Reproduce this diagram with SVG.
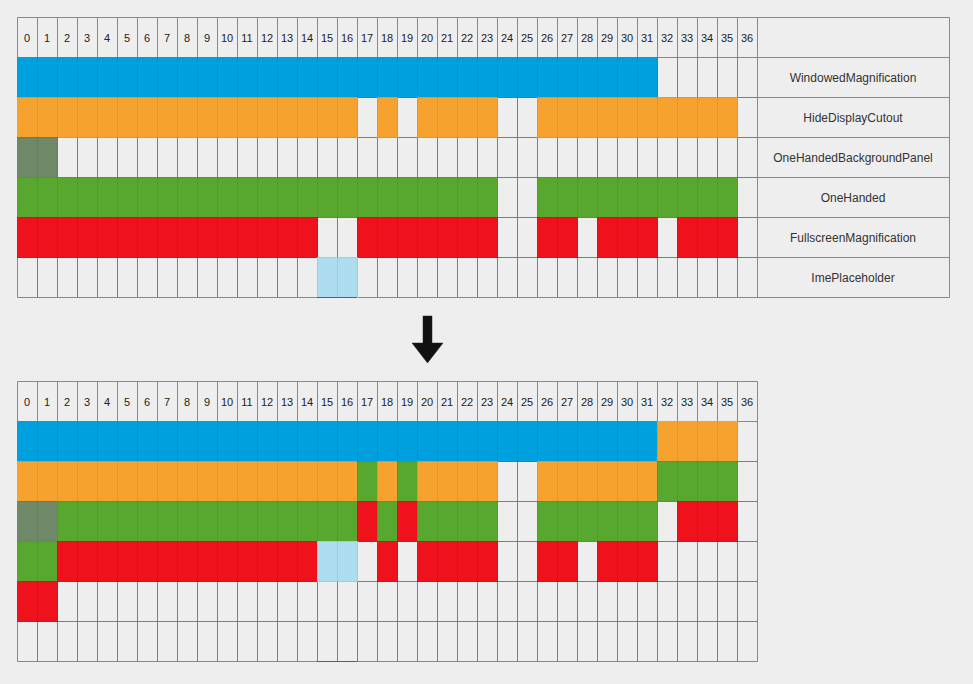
<svg xmlns="http://www.w3.org/2000/svg" width="973" height="684" viewBox="0 0 973 684">
<defs>
<style>
.bg{fill:#eeeeee}
.grid{fill:none;stroke:#888888;stroke-width:1}
.ov{fill:none;stroke:#000000;stroke-opacity:0.07;stroke-width:1}
.b{fill:#00a0de}
.o{fill:#f6a22e}
.gr{fill:#58a72e}
.r{fill:#ef111b}
.p{fill:#6e8868}
.l{fill:#addcee}
.num{font-family:"Liberation Sans",Arial,sans-serif;font-size:11px;fill:#222222;text-anchor:middle}
.lab{font-family:"Liberation Sans",Arial,sans-serif;font-size:12px;fill:#333333;text-anchor:middle}
.teal{stroke:#2a7090;stroke-width:1;fill:none}
</style>
</defs>
<rect class="bg" x="0" y="0" width="973" height="684"/>

<g id="top-table">
  <g id="top-grid">
    <path class="grid" d="M17.5 17.5V297.5M37.5 17.5V297.5M57.5 17.5V297.5M77.5 17.5V297.5M97.5 17.5V297.5M117.5 17.5V297.5M137.5 17.5V297.5M157.5 17.5V297.5M177.5 17.5V297.5M197.5 17.5V297.5M217.5 17.5V297.5M237.5 17.5V297.5M257.5 17.5V297.5M277.5 17.5V297.5M297.5 17.5V297.5M317.5 17.5V297.5M337.5 17.5V297.5M357.5 17.5V297.5M377.5 17.5V297.5M397.5 17.5V297.5M417.5 17.5V297.5M437.5 17.5V297.5M457.5 17.5V297.5M477.5 17.5V297.5M497.5 17.5V297.5M517.5 17.5V297.5M537.5 17.5V297.5M557.5 17.5V297.5M577.5 17.5V297.5M597.5 17.5V297.5M617.5 17.5V297.5M637.5 17.5V297.5M657.5 17.5V297.5M677.5 17.5V297.5M697.5 17.5V297.5M717.5 17.5V297.5M737.5 17.5V297.5M757.5 17.5V297.5M949.5 17.5V297.5M17.5 17.5H949.5M17.5 57.5H949.5M17.5 97.5H949.5M17.5 137.5H949.5M17.5 177.5H949.5M17.5 217.5H949.5M17.5 257.5H949.5M17.5 297.5H949.5"/>
  </g>
  <g id="top-header">
    <text class="num" x="27" y="42">0</text><text class="num" x="47" y="42">1</text><text class="num" x="67" y="42">2</text><text class="num" x="87" y="42">3</text><text class="num" x="107" y="42">4</text><text class="num" x="127" y="42">5</text><text class="num" x="147" y="42">6</text><text class="num" x="167" y="42">7</text><text class="num" x="187" y="42">8</text><text class="num" x="207" y="42">9</text><text class="num" x="227" y="42">10</text><text class="num" x="247" y="42">11</text><text class="num" x="267" y="42">12</text><text class="num" x="287" y="42">13</text><text class="num" x="307" y="42">14</text><text class="num" x="327" y="42">15</text><text class="num" x="347" y="42">16</text><text class="num" x="367" y="42">17</text><text class="num" x="387" y="42">18</text><text class="num" x="407" y="42">19</text><text class="num" x="427" y="42">20</text><text class="num" x="447" y="42">21</text><text class="num" x="467" y="42">22</text><text class="num" x="487" y="42">23</text><text class="num" x="507" y="42">24</text><text class="num" x="527" y="42">25</text><text class="num" x="547" y="42">26</text><text class="num" x="567" y="42">27</text><text class="num" x="587" y="42">28</text><text class="num" x="607" y="42">29</text><text class="num" x="627" y="42">30</text><text class="num" x="647" y="42">31</text><text class="num" x="667" y="42">32</text><text class="num" x="687" y="42">33</text><text class="num" x="707" y="42">34</text><text class="num" x="727" y="42">35</text><text class="num" x="747" y="42">36</text>
  </g>
  <g id="row-WindowedMagnification">
    <rect class="b" x="17" y="57" width="641" height="41"/>
    <text class="lab" x="853" y="82">WindowedMagnification</text>
  </g>
  <g id="row-HideDisplayCutout">
    <rect class="o" x="17" y="97" width="341" height="41"/>
    <rect class="o" x="377" y="97" width="21" height="41"/>
    <rect class="o" x="417" y="97" width="81" height="41"/>
    <rect class="o" x="537" y="97" width="201" height="41"/>
    <text class="lab" x="853" y="122">HideDisplayCutout</text>
  </g>
  <g id="row-OneHandedBackgroundPanel">
    <rect class="p" x="17" y="137" width="41" height="41"/>
    <text class="lab" x="853" y="162">OneHandedBackgroundPanel</text>
  </g>
  <g id="row-OneHanded">
    <rect class="gr" x="17" y="177" width="481" height="41"/>
    <rect class="gr" x="537" y="177" width="201" height="41"/>
    <text class="lab" x="853" y="202">OneHanded</text>
  </g>
  <g id="row-FullscreenMagnification">
    <rect class="r" x="17" y="217" width="301" height="41"/>
    <rect class="r" x="357" y="217" width="141" height="41"/>
    <rect class="r" x="537" y="217" width="41" height="41"/>
    <rect class="r" x="597" y="217" width="61" height="41"/>
    <rect class="r" x="677" y="217" width="61" height="41"/>
    <text class="lab" x="853" y="242">FullscreenMagnification</text>
  </g>
  <g id="row-ImePlaceholder">
    <rect class="l" x="317" y="257" width="41" height="41"/>
    <path class="teal" d="M317 297.5H357"/>
    <text class="lab" x="853" y="282">ImePlaceholder</text>
  </g>
  <path class="ov" d="M37.5 57.5V297.5M57.5 57.5V297.5M77.5 57.5V297.5M97.5 57.5V297.5M117.5 57.5V297.5M137.5 57.5V297.5M157.5 57.5V297.5M177.5 57.5V297.5M197.5 57.5V297.5M217.5 57.5V297.5M237.5 57.5V297.5M257.5 57.5V297.5M277.5 57.5V297.5M297.5 57.5V297.5M317.5 57.5V297.5M337.5 57.5V297.5M357.5 57.5V297.5M377.5 57.5V297.5M397.5 57.5V297.5M417.5 57.5V297.5M437.5 57.5V297.5M457.5 57.5V297.5M477.5 57.5V297.5M497.5 57.5V297.5M517.5 57.5V297.5M537.5 57.5V297.5M557.5 57.5V297.5M577.5 57.5V297.5M597.5 57.5V297.5M617.5 57.5V297.5M637.5 57.5V297.5M657.5 57.5V297.5M677.5 57.5V297.5M697.5 57.5V297.5M717.5 57.5V297.5M737.5 57.5V297.5M17.5 97.5H757.5M17.5 137.5H757.5M17.5 177.5H757.5M17.5 217.5H757.5M17.5 257.5H757.5"/>
</g>

<g id="connectors">
  <polygon id="arrow-down" points="423,316 432,316 432,343 443,343 427.5,363 412,343 423,343" fill="#111111" stroke="#1a2a33" stroke-width="0.5"/>
</g>

<g id="bottom-table">
  <g id="bottom-grid">
    <path class="grid" d="M17.5 381.5V661.5M37.5 381.5V661.5M57.5 381.5V661.5M77.5 381.5V661.5M97.5 381.5V661.5M117.5 381.5V661.5M137.5 381.5V661.5M157.5 381.5V661.5M177.5 381.5V661.5M197.5 381.5V661.5M217.5 381.5V661.5M237.5 381.5V661.5M257.5 381.5V661.5M277.5 381.5V661.5M297.5 381.5V661.5M317.5 381.5V661.5M337.5 381.5V661.5M357.5 381.5V661.5M377.5 381.5V661.5M397.5 381.5V661.5M417.5 381.5V661.5M437.5 381.5V661.5M457.5 381.5V661.5M477.5 381.5V661.5M497.5 381.5V661.5M517.5 381.5V661.5M537.5 381.5V661.5M557.5 381.5V661.5M577.5 381.5V661.5M597.5 381.5V661.5M617.5 381.5V661.5M637.5 381.5V661.5M657.5 381.5V661.5M677.5 381.5V661.5M697.5 381.5V661.5M717.5 381.5V661.5M737.5 381.5V661.5M757.5 381.5V661.5M17.5 381.5H757.5M17.5 421.5H757.5M17.5 461.5H757.5M17.5 501.5H757.5M17.5 541.5H757.5M17.5 581.5H757.5M17.5 621.5H757.5M17.5 661.5H757.5"/>
  </g>
  <g id="bottom-header">
    <text class="num" x="27" y="406">0</text><text class="num" x="47" y="406">1</text><text class="num" x="67" y="406">2</text><text class="num" x="87" y="406">3</text><text class="num" x="107" y="406">4</text><text class="num" x="127" y="406">5</text><text class="num" x="147" y="406">6</text><text class="num" x="167" y="406">7</text><text class="num" x="187" y="406">8</text><text class="num" x="207" y="406">9</text><text class="num" x="227" y="406">10</text><text class="num" x="247" y="406">11</text><text class="num" x="267" y="406">12</text><text class="num" x="287" y="406">13</text><text class="num" x="307" y="406">14</text><text class="num" x="327" y="406">15</text><text class="num" x="347" y="406">16</text><text class="num" x="367" y="406">17</text><text class="num" x="387" y="406">18</text><text class="num" x="407" y="406">19</text><text class="num" x="427" y="406">20</text><text class="num" x="447" y="406">21</text><text class="num" x="467" y="406">22</text><text class="num" x="487" y="406">23</text><text class="num" x="507" y="406">24</text><text class="num" x="527" y="406">25</text><text class="num" x="547" y="406">26</text><text class="num" x="567" y="406">27</text><text class="num" x="587" y="406">28</text><text class="num" x="607" y="406">29</text><text class="num" x="627" y="406">30</text><text class="num" x="647" y="406">31</text><text class="num" x="667" y="406">32</text><text class="num" x="687" y="406">33</text><text class="num" x="707" y="406">34</text><text class="num" x="727" y="406">35</text><text class="num" x="747" y="406">36</text>
  </g>
  <g id="bottom-row-1">
    <rect class="b" x="17" y="421" width="641" height="41"/>
    <rect class="o" x="657" y="421" width="81" height="41"/>
  </g>
  <g id="bottom-row-2">
    <rect class="o" x="17" y="461" width="341" height="41"/>
    <rect class="gr" x="357" y="461" width="21" height="41"/>
    <rect class="o" x="377" y="461" width="21" height="41"/>
    <rect class="gr" x="397" y="461" width="21" height="41"/>
    <rect class="o" x="417" y="461" width="81" height="41"/>
    <rect class="o" x="537" y="461" width="121" height="41"/>
    <rect class="gr" x="657" y="461" width="81" height="41"/>
  </g>
  <g id="bottom-row-3">
    <rect class="p" x="17" y="501" width="41" height="41"/>
    <rect class="gr" x="57" y="501" width="301" height="41"/>
    <rect class="r" x="357" y="501" width="21" height="41"/>
    <rect class="gr" x="377" y="501" width="21" height="41"/>
    <rect class="r" x="397" y="501" width="21" height="41"/>
    <rect class="gr" x="417" y="501" width="81" height="41"/>
    <rect class="gr" x="537" y="501" width="121" height="41"/>
    <rect class="r" x="677" y="501" width="61" height="41"/>
  </g>
  <g id="bottom-row-4">
    <rect class="gr" x="17" y="541" width="41" height="41"/>
    <rect class="r" x="57" y="541" width="261" height="41"/>
    <rect class="l" x="317" y="541" width="41" height="41"/>
    <rect class="r" x="377" y="541" width="21" height="41"/>
    <rect class="r" x="417" y="541" width="81" height="41"/>
    <rect class="r" x="537" y="541" width="41" height="41"/>
    <rect class="r" x="597" y="541" width="61" height="41"/>
  </g>
  <g id="bottom-row-5">
    <rect class="r" x="17" y="581" width="41" height="41"/>
  </g>
  <path class="teal" d="M317 661.5H357"/>
  <path class="ov" d="M37.5 421.5V661.5M57.5 421.5V661.5M77.5 421.5V661.5M97.5 421.5V661.5M117.5 421.5V661.5M137.5 421.5V661.5M157.5 421.5V661.5M177.5 421.5V661.5M197.5 421.5V661.5M217.5 421.5V661.5M237.5 421.5V661.5M257.5 421.5V661.5M277.5 421.5V661.5M297.5 421.5V661.5M317.5 421.5V661.5M337.5 421.5V661.5M357.5 421.5V661.5M377.5 421.5V661.5M397.5 421.5V661.5M417.5 421.5V661.5M437.5 421.5V661.5M457.5 421.5V661.5M477.5 421.5V661.5M497.5 421.5V661.5M517.5 421.5V661.5M537.5 421.5V661.5M557.5 421.5V661.5M577.5 421.5V661.5M597.5 421.5V661.5M617.5 421.5V661.5M637.5 421.5V661.5M657.5 421.5V661.5M677.5 421.5V661.5M697.5 421.5V661.5M717.5 421.5V661.5M737.5 421.5V661.5M17.5 461.5H757.5M17.5 501.5H757.5M17.5 541.5H757.5M17.5 581.5H757.5M17.5 621.5H757.5"/>
</g>
</svg>
